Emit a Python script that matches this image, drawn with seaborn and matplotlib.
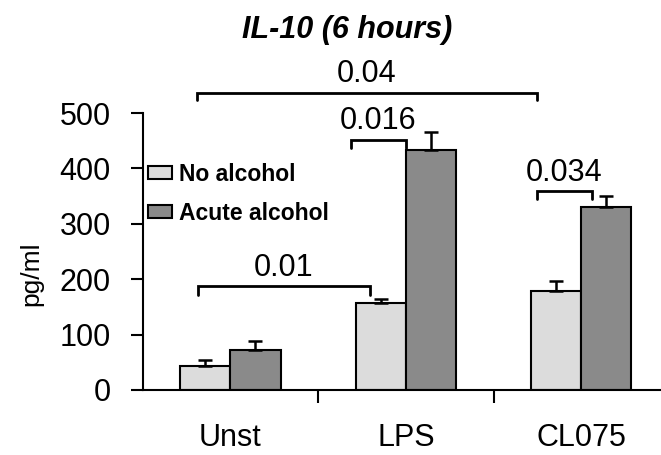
import pandas as pd
import seaborn as sns
import matplotlib.pyplot as plt

# values
groups = ["Unst", "LPS", "CL075"]
treatments = ["No alcohol", "Acute alcohol"]
no_alcohol = [43, 157, 178]
acute_alcohol = [72, 434, 330]
no_alcohol_err = [11, 7, 18]
acute_alcohol_err = [17, 31, 21]
colors = ["#DCDCDC", "#8A8A8A"]

# significance brackets: (x start, x end, bracket y, leg y, label)
bracket_x0 = [-0.19, 0.686, -0.186, 1.747]
bracket_x1 = [1.745, 0.998, 0.794, 2.06]
bracket_y = [537, 452, 187, 359]
bracket_leg = [524, 437, 172, 344]
bracket_labels = ["0.04", "0.016", "0.01", "0.034"]

df = pd.DataFrame({
    "group": groups * 2,
    "treatment": [treatments[0]] * 3 + [treatments[1]] * 3,
    "value": no_alcohol + acute_alcohol,
})

sns.set_style("ticks")
plt.rcParams["font.family"] = ["Liberation Sans", "DejaVu Sans"]
for k in ["text.color", "axes.labelcolor", "xtick.color", "ytick.color", "axes.edgecolor"]:
    plt.rcParams[k] = "black"

fig = plt.figure(figsize=(6.61, 4.55), dpi=100)
ax = fig.add_axes([0.216, 0.1429, 0.783, 0.6087])

sns.barplot(data=df, x="group", y="value", hue="treatment", order=groups,
            hue_order=treatments, palette=colors, edgecolor="black",
            linewidth=1.5, width=0.57, errorbar=None, ax=ax)

# upper error bars only
for cont, errs in zip(ax.containers, [no_alcohol_err, acute_alcohol_err]):
    xs = [b.get_x() + b.get_width() / 2 for b in cont]
    ys = [b.get_height() for b in cont]
    ax.errorbar(xs, ys, yerr=[[0] * len(errs), errs], fmt="none",
                ecolor="black", elinewidth=1.8, capsize=5, capthick=1.8,
                zorder=1)

ax.set_ylim(0, 500)
ax.set_xlim(-0.5, 2.45)
ax.set_yticks([0, 100, 200, 300, 400, 500])
ax.set_xticks([0, 1, 2])
ax.set_xticks([0.5, 1.5], minor=True)
ax.tick_params(axis="x", which="major", length=0, labelsize=22, pad=24)
ax.tick_params(axis="x", which="minor", length=9, width=1.5, direction="out")
ax.tick_params(axis="y", length=9, width=1.5, labelsize=22, pad=14, direction="out")
ax.set_xlabel("")
ax.set_ylabel("pg/ml", fontsize=19)
ax.yaxis.set_label_coords(-0.193, 0.42)
for s in ["left", "bottom"]:
    ax.spines[s].set_linewidth(1.5)
sns.despine(ax=ax)

# brackets
for x0, x1, y, yl, lab in zip(bracket_x0, bracket_x1, bracket_y, bracket_leg, bracket_labels):
    ax.plot([x0, x0, x1, x1], [yl, y, y, yl], color="black", lw=2,
            clip_on=False, solid_joinstyle="miter")
    ax.text((x0 + x1) / 2, y + 6, lab, ha="center", va="bottom",
            fontsize=22, clip_on=False)

leg = ax.legend(loc="center left", bbox_to_anchor=(0.0103, 0.709), frameon=False,
                prop={"weight": "bold", "size": 16.5}, handlelength=1.05,
                handleheight=0.45, handletextpad=0.3, labelspacing=0.7,
                borderpad=0, borderaxespad=0)

fig.text(347.5 / 661, 1 - 30 / 455, "IL-10 (6 hours)", ha="center", va="center",
         fontsize=22, fontweight="bold", fontstyle="italic")

fig.savefig("out.png", dpi=100)
